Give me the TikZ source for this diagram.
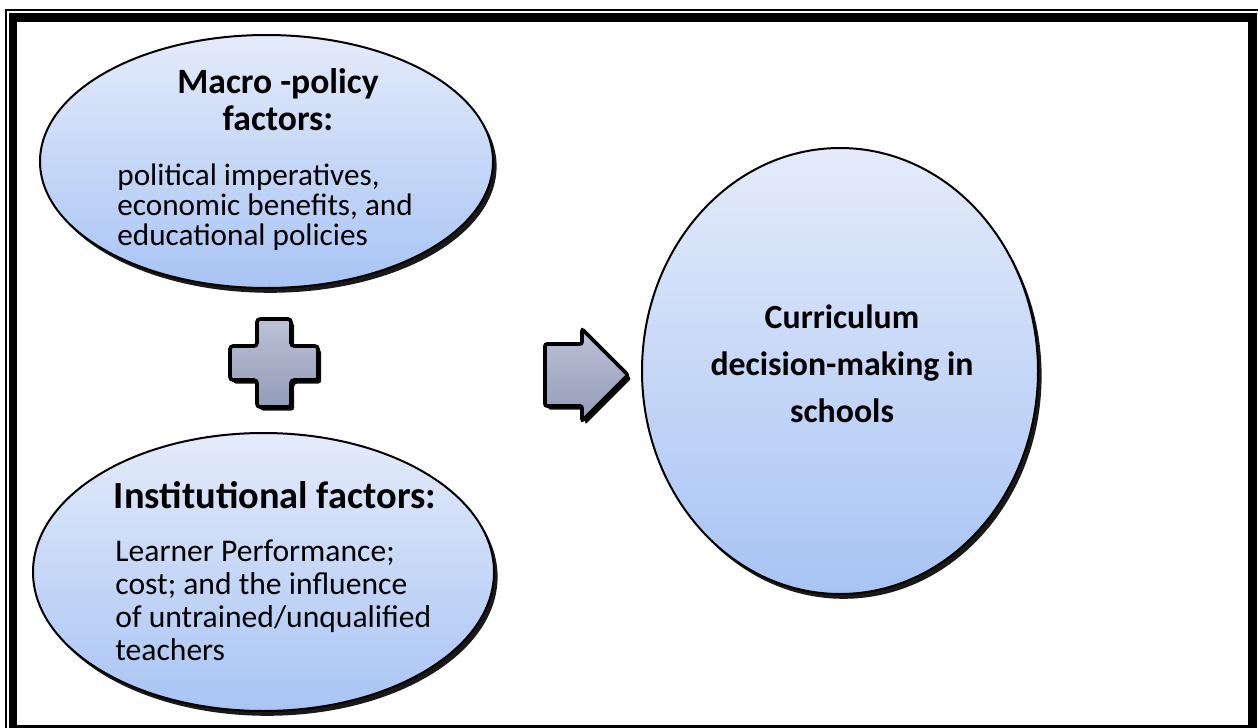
\documentclass[tikz,border=0pt]{standalone}
\usepackage{fontspec}
\setmainfont{Carlito}
\usetikzlibrary{shapes.geometric,shadows}
\definecolor{ovtop}{RGB}{228,235,250}
\definecolor{ovbot}{RGB}{168,196,244}
\definecolor{symtop}{RGB}{188,194,214}
\definecolor{symbot}{RGB}{146,155,184}
\tikzset{
  oval/.style={ellipse, draw=black, line width=1pt, inner sep=0pt, outer sep=0pt,
    top color=ovtop, bottom color=ovbot,
    drop shadow={shadow xshift=1.8pt, shadow yshift=-2.4pt, fill=black, opacity=0.9}},
  symb/.style={draw=black, line width=1.8pt, top color=symtop, bottom color=symbot,
    drop shadow={shadow xshift=1.6pt, shadow yshift=-1.8pt, fill=black, opacity=0.95}},
  headtxt/.style={align=center, inner sep=0pt, font=\fontsize{17.8}{18.5}\selectfont\bfseries},
  bodytxt/.style={align=left, inner sep=0pt, font=\fontsize{15.6}{15}\selectfont},
}
\begin{document}
\begin{tikzpicture}[x=0.5pt,y=-0.5pt]
\useasboundingbox (0,0) rectangle (1258,728);
\clip (0,0) rectangle (1258,728);
\fill[white] (0,0) rectangle (1258,728);
% frame
\draw[line width=1pt] (6,10) rectangle (1262,734);
\draw[line width=4.25pt] (13,17.5) rectangle (1252.5,729.5);
% ovals
\node[oval, minimum width=226.5pt, minimum height=126.5pt] (macro) at (266.5,161.5) {};
\node[oval, minimum width=230.5pt, minimum height=139pt] (inst) at (263.5,572) {};
\node[oval, minimum width=198pt, minimum height=223pt] (curr) at (840,371) {};
% plus sign
\path[symb, rounded corners=1.5pt]
  (257,319) -- (291,319) -- (291,346) -- (318,346) -- (318,380) -- (291,380)
  -- (291,407) -- (257,407) -- (257,380) -- (230,380) -- (230,346) -- (257,346) -- cycle;
% arrow
\path[symb, rounded corners=1pt]
  (545,344) -- (582,344) -- (582,329) -- (628,375) -- (582,421) -- (582,406) -- (545,406) -- cycle;
% texts (base anchor = last line)
\node[headtxt, anchor=base] (macroh) at (278,130) {Macro -policy\\factors:};
\node[bodytxt, anchor=base west] (macrob) at (117,245) {political imperatives,\\economic benefits, and\\educational policies};
\node[headtxt, anchor=base, font=\fontsize{19.2}{20}\selectfont\bfseries] (insth) at (275,508) {Institutional factors:};
\node[bodytxt, anchor=base west, font=\fontsize{15.8}{16.5}\selectfont] (instb) at (115,660) {Learner Performance;\\cost; and the influence\\of untrained/unqualified\\teachers};
\node[headtxt, anchor=base, font=\fontsize{16.9}{23.5}\selectfont\bfseries] (currt) at (842,422) {Curriculum\\decision-making in\\schools};
\end{tikzpicture}
\end{document}
